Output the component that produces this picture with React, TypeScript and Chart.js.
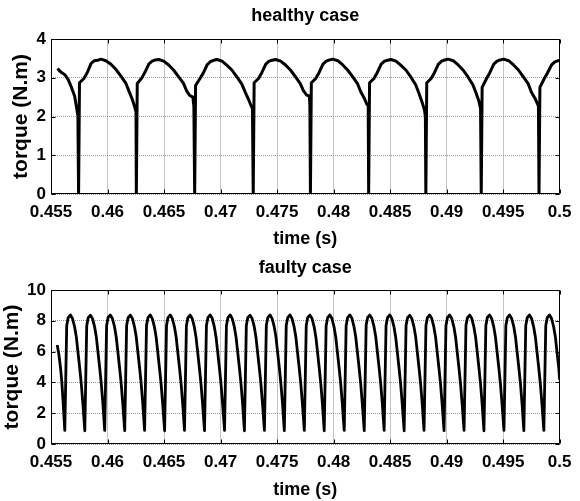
import React, { useEffect, useRef } from "react";
import { Chart, registerables } from "chart.js";

Chart.register(...registerables);

const xTicks = [0.455, 0.46, 0.465, 0.47, 0.475, 0.48, 0.485, 0.49, 0.495, 0.5];
const healthyYTicks = [0, 1, 2, 3, 4];
const faultyYTicks = [0, 2, 4, 6, 8, 10];

const healthyTitle = "healthy case";
const faultyTitle = "faulty case";
const xLabel = "time (s)";
const yLabel = "torque (N.m)";

// healthy case: time (s)
const healthyTime = [
  0.45558, 0.45575, 0.456, 0.45622, 0.45651, 0.45681, 0.45709, 0.45724, 0.45738, 0.45744,
  0.45752, 0.45791, 0.4582, 0.45855, 0.45884, 0.45912, 0.45942, 0.45986, 0.4603, 0.46073, 0.46117, 0.4616, 0.46189, 0.46218, 0.4624, 0.46252, 0.46255,
  0.46263, 0.46302, 0.46331, 0.46366, 0.46395, 0.46423, 0.46453, 0.46497, 0.46541, 0.46584, 0.46628, 0.46671, 0.467, 0.46725, 0.46755, 0.46764, 0.46771,
  0.46779, 0.46818, 0.46847, 0.46882, 0.46911, 0.46939, 0.46969, 0.47013, 0.47057, 0.471, 0.47144, 0.47187, 0.47216, 0.4725, 0.47282, 0.47289,
  0.47297, 0.47336, 0.47365, 0.474, 0.47429, 0.47457, 0.47487, 0.47531, 0.47575, 0.47618, 0.47662, 0.47705, 0.47734, 0.47762, 0.47785, 0.4779, 0.47795,
  0.47803, 0.47842, 0.47871, 0.47906, 0.47935, 0.47963, 0.47993, 0.48037, 0.48081, 0.48124, 0.48168, 0.48211, 0.4824, 0.48275, 0.48295, 0.48306, 0.4831,
  0.48318, 0.48357, 0.48386, 0.48421, 0.4845, 0.48478, 0.48508, 0.48552, 0.48596, 0.48639, 0.48683, 0.48726, 0.48755, 0.48785, 0.48805, 0.48812, 0.48816,
  0.48824, 0.48863, 0.48892, 0.48927, 0.48956, 0.48984, 0.49014, 0.49058, 0.49102, 0.49145, 0.49189, 0.49232, 0.49261, 0.49285, 0.493, 0.49306,
  0.49314, 0.49353, 0.49382, 0.49417, 0.49446, 0.49474, 0.49504, 0.49548, 0.49592, 0.49635, 0.49679, 0.49722, 0.49751, 0.49785, 0.49812, 0.49817,
  0.49825, 0.49864, 0.49893, 0.49928, 0.49957, 0.49985, 0.5,
];

// healthy case: torque (N.m)
const healthyTorque = [
  3.24, 3.18, 3.12, 3.08, 2.96, 2.75, 2.53, 2.27, 2.02, 0,
  2.87, 2.98, 3.13, 3.37, 3.44, 3.45, 3.48, 3.44, 3.35, 3.22, 3.05, 2.87, 2.66, 2.45, 2.25, 2.12, 0,
  2.85, 2.99, 3.14, 3.36, 3.43, 3.46, 3.47, 3.43, 3.33, 3.2, 3.03, 2.86, 2.66, 2.55, 2.5, 2.25, 0,
  2.8, 2.98, 3.12, 3.34, 3.42, 3.45, 3.47, 3.43, 3.32, 3.2, 3.02, 2.84, 2.64, 2.42, 2.2, 0,
  2.87, 2.98, 3.13, 3.35, 3.43, 3.45, 3.47, 3.43, 3.33, 3.2, 3.03, 2.85, 2.66, 2.55, 2.53, 2.31, 0,
  2.87, 2.98, 3.13, 3.35, 3.43, 3.46, 3.48, 3.44, 3.33, 3.2, 3.03, 2.85, 2.64, 2.45, 2.31, 2.3, 0,
  2.87, 2.98, 3.13, 3.35, 3.43, 3.45, 3.47, 3.43, 3.32, 3.2, 3.02, 2.82, 2.6, 2.35, 2.15, 2.0, 0,
  2.87, 2.98, 3.13, 3.35, 3.43, 3.46, 3.48, 3.44, 3.33, 3.2, 3.02, 2.82, 2.6, 2.4, 2.2, 0,
  2.75, 2.98, 3.13, 3.35, 3.43, 3.46, 3.48, 3.44, 3.33, 3.2, 3.02, 2.84, 2.62, 2.45, 2.27, 0,
  2.75, 2.98, 3.13, 3.33, 3.41, 3.44, 3.44,
];

// faulty case: time (s)
const faultyTime = [
  0.45555, 0.4557, 0.45585, 0.45595, 0.45608,
  0.45622, 0.45639, 0.45652, 0.45672, 0.4569, 0.45709, 0.45724, 0.45738, 0.45753, 0.45768, 0.45782,
  0.45799, 0.45816, 0.45829, 0.45849, 0.45867, 0.45886, 0.45901, 0.45915, 0.4593, 0.45945, 0.45959,
  0.45975, 0.45992, 0.46005, 0.46025, 0.46043, 0.46062, 0.46077, 0.46091, 0.46106, 0.46121, 0.46135,
  0.46152, 0.46169, 0.46182, 0.46202, 0.4622, 0.46239, 0.46254, 0.46268, 0.46283, 0.46298, 0.46312,
  0.46328, 0.46345, 0.46358, 0.46378, 0.46396, 0.46415, 0.4643, 0.46444, 0.46459, 0.46474, 0.46488,
  0.46505, 0.46522, 0.46535, 0.46555, 0.46573, 0.46592, 0.46607, 0.46621, 0.46636, 0.46651, 0.46665,
  0.46681, 0.46698, 0.46711, 0.46731, 0.46749, 0.46768, 0.46783, 0.46797, 0.46812, 0.46827, 0.46841,
  0.46858, 0.46875, 0.46888, 0.46908, 0.46926, 0.46945, 0.4696, 0.46974, 0.46989, 0.47004, 0.47018,
  0.47035, 0.47052, 0.47065, 0.47085, 0.47103, 0.47122, 0.47137, 0.47151, 0.47166, 0.47181, 0.47195,
  0.47211, 0.47228, 0.47241, 0.47261, 0.47279, 0.47298, 0.47313, 0.47327, 0.47342, 0.47357, 0.47371,
  0.47388, 0.47405, 0.47418, 0.47438, 0.47456, 0.47475, 0.4749, 0.47504, 0.47519, 0.47534, 0.47548,
  0.47564, 0.47581, 0.47594, 0.47614, 0.47632, 0.47651, 0.47666, 0.4768, 0.47695, 0.4771, 0.47724,
  0.47741, 0.47758, 0.47771, 0.47791, 0.47809, 0.47828, 0.47843, 0.47857, 0.47872, 0.47887, 0.47901,
  0.47917, 0.47934, 0.47947, 0.47967, 0.47985, 0.48004, 0.48019, 0.48033, 0.48048, 0.48063, 0.48077,
  0.48094, 0.48111, 0.48124, 0.48144, 0.48162, 0.48181, 0.48196, 0.4821, 0.48225, 0.4824, 0.48254,
  0.48271, 0.48288, 0.48301, 0.48321, 0.48339, 0.48358, 0.48373, 0.48387, 0.48402, 0.48417, 0.48431,
  0.48447, 0.48464, 0.48477, 0.48497, 0.48515, 0.48534, 0.48549, 0.48563, 0.48578, 0.48593, 0.48607,
  0.48624, 0.48641, 0.48654, 0.48674, 0.48692, 0.48711, 0.48726, 0.4874, 0.48755, 0.4877, 0.48784,
  0.488, 0.48817, 0.4883, 0.4885, 0.48868, 0.48887, 0.48902, 0.48916, 0.48931, 0.48946, 0.4896,
  0.48977, 0.48994, 0.49007, 0.49027, 0.49045, 0.49064, 0.49079, 0.49093, 0.49108, 0.49123, 0.49137,
  0.49154, 0.49171, 0.49184, 0.49204, 0.49222, 0.49241, 0.49256, 0.4927, 0.49285, 0.493, 0.49314,
  0.4933, 0.49347, 0.4936, 0.4938, 0.49398, 0.49417, 0.49432, 0.49446, 0.49461, 0.49476, 0.4949,
  0.49507, 0.49524, 0.49537, 0.49557, 0.49575, 0.49594, 0.49609, 0.49623, 0.49638, 0.49653, 0.49667,
  0.49683, 0.497, 0.49713, 0.49733, 0.49751, 0.4977, 0.49785, 0.49799, 0.49814, 0.49829, 0.49843,
  0.4986, 0.49877, 0.4989, 0.4991, 0.49928, 0.49947, 0.49962, 0.49976, 0.49991, 0.5,
];

// faulty case: torque (N.m)
const faultyTorque = [
  6.43, 5.8, 4.9, 4.1, 2.6,
  0.88, 7.7, 8.2, 8.38, 8.15, 7.6, 6.95, 6.0, 5.0, 3.9, 2.6,
  0.86, 7.68, 8.2, 8.36, 8.14, 7.6, 6.95, 6.0, 5.0, 3.9, 2.62,
  0.88, 7.7, 8.22, 8.38, 8.15, 7.62, 6.95, 6.02, 5.0, 3.92, 2.6,
  0.87, 7.7, 8.2, 8.37, 8.15, 7.6, 6.96, 6.0, 5.0, 3.9, 2.6,
  0.88, 7.72, 8.2, 8.38, 8.14, 7.6, 6.95, 6.0, 4.98, 3.9, 2.6,
  0.86, 7.7, 8.21, 8.38, 8.15, 7.61, 6.95, 6.0, 5.0, 3.9, 2.61,
  0.88, 7.7, 8.2, 8.37, 8.15, 7.6, 6.94, 6.0, 5.0, 3.9, 2.6,
  0.87, 7.69, 8.2, 8.38, 8.16, 7.6, 6.95, 6.01, 5.0, 3.91, 2.6,
  0.88, 7.7, 8.2, 8.38, 8.15, 7.6, 6.95, 6.0, 5.0, 3.9, 2.6,
  0.86, 7.7, 8.22, 8.36, 8.15, 7.62, 6.95, 6.0, 5.0, 3.9, 2.6,
  0.88, 7.71, 8.2, 8.38, 8.14, 7.6, 6.96, 6.0, 5.01, 3.9, 2.62,
  0.87, 7.7, 8.2, 8.38, 8.15, 7.6, 6.95, 6.0, 5.0, 3.9, 2.6,
  0.88, 7.7, 8.21, 8.37, 8.15, 7.61, 6.95, 6.02, 5.0, 3.9, 2.6,
  0.86, 7.68, 8.2, 8.38, 8.15, 7.6, 6.95, 6.0, 5.0, 3.92, 2.61,
  0.88, 7.7, 8.2, 8.38, 8.16, 7.6, 6.94, 6.0, 5.0, 3.9, 2.6,
  0.87, 7.72, 8.22, 8.37, 8.15, 7.6, 6.95, 6.0, 4.99, 3.9, 2.6,
  0.88, 7.7, 8.2, 8.38, 8.15, 7.62, 6.95, 6.01, 5.0, 3.9, 2.62,
  0.86, 7.7, 8.2, 8.36, 8.14, 7.6, 6.96, 6.0, 5.0, 3.9, 2.6,
  0.88, 7.69, 8.21, 8.38, 8.15, 7.6, 6.95, 6.0, 5.0, 3.91, 2.6,
  0.87, 7.7, 8.2, 8.38, 8.15, 7.61, 6.95, 6.0, 5.01, 3.9, 2.61,
  0.88, 7.71, 8.2, 8.37, 8.16, 7.6, 6.95, 6.02, 5.0, 3.9, 2.6,
  0.86, 7.7, 8.22, 8.38, 8.15, 7.6, 6.94, 6.0, 5.0, 3.9, 2.6,
  0.88, 7.7, 8.2, 8.38, 8.15, 7.62, 6.95, 6.0, 5.0, 3.92, 2.62,
  0.87, 7.7, 8.2, 8.38, 8.15, 7.6, 6.95, 6.0, 5.0, 3.9, 2.6,
  0.88, 7.7, 8.2, 8.38, 8.15, 7.6, 6.95, 6.0, 5.0, 4.15,
];

const FONT = 'Arial, "Liberation Sans", Helvetica, sans-serif';

const fmtX = (v: number) => String(parseFloat(Number(v).toFixed(3)));

// draws the MATLAB-style box, inward ticks and the axes title
const framePlugin = {
  id: "matlabFrame",
  afterDraw(chart: any, _args: any, opts: any) {
    const { ctx, chartArea } = chart;
    const { left, right, top, bottom } = chartArea;
    const xs = chart.scales.x;
    const ys = chart.scales.y;
    ctx.save();
    ctx.strokeStyle = "#000";
    ctx.lineWidth = 1;
    ctx.beginPath();
    const L = Math.round(left) + 0.5;
    const R = Math.round(right) - 0.5;
    const T = Math.round(top) + 0.5;
    const B = Math.round(bottom) - 0.5;
    ctx.rect(L, T, R - L, B - T);
    const tl = 4;
    xs.ticks.forEach((t: any) => {
      const px = Math.round(xs.getPixelForValue(t.value)) + 0.5;
      ctx.moveTo(px, B);
      ctx.lineTo(px, B - tl);
      ctx.moveTo(px, T);
      ctx.lineTo(px, T + tl);
    });
    ys.ticks.forEach((t: any) => {
      const py = Math.round(ys.getPixelForValue(t.value)) + 0.5;
      ctx.moveTo(L, py);
      ctx.lineTo(L + tl, py);
      ctx.moveTo(R, py);
      ctx.lineTo(R - tl, py);
    });
    ctx.stroke();
    if (opts && opts.text) {
      ctx.fillStyle = "#000";
      ctx.font = `bold ${opts.size}px ${FONT}`;
      ctx.textAlign = "center";
      ctx.textBaseline = "middle";
      ctx.fillText(opts.text, (left + right) / 2, opts.y);
    }
    ctx.restore();
  },
};

function makeConfig(
  time: number[],
  torque: number[],
  yTicks: number[],
  title: string,
  titleY: number,
  areaTop: number,
  yTitlePad: number,
  xHeight: number,
  lineWidth: number
): any {
  return {
    type: "line",
    data: {
      datasets: [
        {
          data: time.map((t, i) => ({ x: t, y: torque[i] })),
          borderColor: "#000",
          borderWidth: lineWidth,
          pointRadius: 0,
          tension: 0,
          fill: false,
          borderJoinStyle: "round",
        },
      ],
    },
    options: {
      animation: false,
      responsive: false,
      events: [],
      layout: { padding: { left: 0, right: 13, top: areaTop, bottom: 0 } },
      plugins: {
        legend: { display: false },
        tooltip: { enabled: false },
        title: { display: false },
        matlabFrame: { text: title, size: 18, y: titleY },
      },
      scales: {
        x: {
          type: "linear",
          min: xTicks[0],
          max: xTicks[xTicks.length - 1],
          afterBuildTicks: (s: any) => {
            s.ticks = xTicks.map((v) => ({ value: v }));
          },
          afterFit: (s: any) => {
            s.height = xHeight;
          },
          ticks: {
            color: "#000",
            font: { family: FONT, size: 17, weight: "bold" },
            padding: 8.5,
            maxRotation: 0,
            autoSkip: false,
            callback: (v: any) => fmtX(v),
          },
          grid: { color: "#c4c4c4", lineWidth: 1, drawTicks: false },
          border: { display: false },
          title: {
            display: true,
            text: xLabel,
            color: "#000",
            font: { family: FONT, size: 18, weight: "bold" },
            padding: { top: 0, bottom: 0 },
          },
        },
        y: {
          min: yTicks[0],
          max: yTicks[yTicks.length - 1],
          afterBuildTicks: (s: any) => {
            s.ticks = yTicks.map((v) => ({ value: v }));
          },
          afterFit: (s: any) => {
            s.width = 51;
          },
          ticks: {
            color: "#000",
            font: { family: FONT, size: 17, weight: "bold" },
            padding: 5,
            autoSkip: false,
            callback: (v: any) => String(v),
          },
          grid: { color: "#9a9a9a", lineWidth: 1, drawTicks: false },
          border: { display: false, dash: [1, 1] },
          title: {
            display: true,
            text: yLabel,
            color: "#000",
            font: { family: FONT, size: 21, weight: "bold" },
            padding: { top: yTitlePad, bottom: 0 },
          },
        },
      },
    },
    plugins: [framePlugin],
  };
}

export default function App() {
  const topRef = useRef<HTMLCanvasElement | null>(null);
  const botRef = useRef<HTMLCanvasElement | null>(null);

  useEffect(() => {
    const c1 = new Chart(
      topRef.current as HTMLCanvasElement,
      makeConfig(healthyTime, healthyTorque, healthyYTicks, healthyTitle, 16, 39, 9, 56, 3)
    );
    const c2 = new Chart(
      botRef.current as HTMLCanvasElement,
      makeConfig(faultyTime, faultyTorque, faultyYTicks, faultyTitle, 18, 40, 0, 57, 2.8)
    );
    return () => {
      c1.destroy();
      c2.destroy();
    };
  }, []);

  return (
    <div
      style={{
        position: "fixed",
        left: 0,
        top: 0,
        width: 580,
        height: 501,
        background: "#fff",
      }}
    >
      <canvas ref={topRef} width={580} height={250} style={{ display: "block", width: 580, height: 250 }} />
      <canvas ref={botRef} width={580} height={251} style={{ display: "block", width: 580, height: 251 }} />
    </div>
  );
}
